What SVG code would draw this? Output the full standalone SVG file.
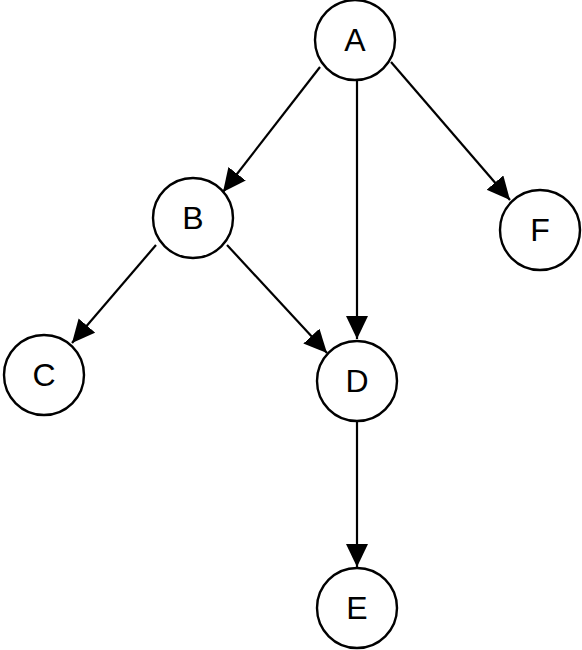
<svg xmlns="http://www.w3.org/2000/svg" width="582" height="650" viewBox="0 0 582 650">
<style>
.node circle{fill:#fff;stroke:#000;stroke-width:2.4}
.node text{font-family:"Liberation Sans",Arial,sans-serif;font-size:32px;text-anchor:middle;fill:#000}
.edges line{stroke:#000;stroke-width:2.2}
</style>
<defs>
<marker id="arr" markerUnits="userSpaceOnUse" markerWidth="24" markerHeight="24" refX="23" refY="11" orient="auto" viewBox="0 0 24 24">
<path d="M0,0 L23,11 L0,22 z" fill="#000"/>
</marker>
</defs>
<rect width="582" height="650" fill="#fff"/>
<g id="edges" class="edges">
<line x1="320" y1="67" x2="223" y2="192" marker-end="url(#arr)"/>
<line x1="357" y1="81" x2="357" y2="339" marker-end="url(#arr)"/>
<line x1="391" y1="62" x2="510" y2="200" marker-end="url(#arr)"/>
<line x1="156" y1="245" x2="72" y2="343" marker-end="url(#arr)"/>
<line x1="227" y1="245" x2="327" y2="353" marker-end="url(#arr)"/>
<line x1="357" y1="422" x2="357" y2="567" marker-end="url(#arr)"/>
</g>
<g id="node-A" class="node"><circle cx="355" cy="40" r="40"/><text x="355" y="51">A</text></g>
<g id="node-B" class="node"><circle cx="193" cy="218" r="40"/><text x="193" y="229">B</text></g>
<g id="node-C" class="node"><circle cx="44" cy="375" r="40"/><text x="44" y="386">C</text></g>
<g id="node-D" class="node"><circle cx="357" cy="381" r="40"/><text x="357" y="392">D</text></g>
<g id="node-E" class="node"><circle cx="357" cy="608" r="40"/><text x="357" y="619">E</text></g>
<g id="node-F" class="node"><circle cx="540" cy="230" r="40"/><text x="540" y="241">F</text></g>
</svg>
